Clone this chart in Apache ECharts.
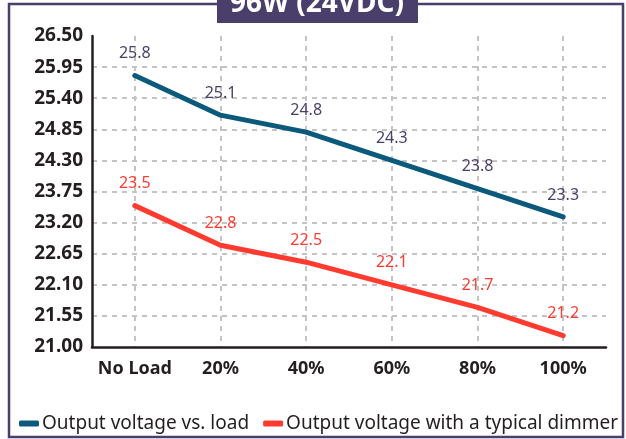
<!DOCTYPE html>
<html>
<head>
<meta charset="utf-8">
<script src="https://cdn.jsdelivr.net/npm/echarts@6/dist/echarts.min.js"></script>
<style>
  html, body { margin: 0; padding: 0; background: #ffffff; }
  #chart { width: 626px; height: 439px; }
</style>
</head>
<body>
<div id="chart"></div>
<script>
// 数据
var categories = ['No Load', '20%', '40%', '60%', '80%', '100%']
var loadVoltage = [25.8, 25.1, 24.8, 24.3, 23.8, 23.3]
var dimmerVoltage = [23.5, 22.8, 22.5, 22.1, 21.7, 21.2]
var seriesNames = ['Output voltage vs. load', 'Output voltage with a typical dimmer']
var titleText = '96W (24VDC)'

var purple = '#4a3f6b'
var blue = '#0b5a7c'
var red = '#ff3b30'
var font = 'Noto Sans'

// 辅助轴：竖向虚线放在类目中心
var helperTicks = []
for (var i = 0; i <= categories.length * 2; i++) helperTicks.push(String(i))

var chart = echarts.init(document.getElementById('chart'))

var option = {
  backgroundColor: '#ffffff',
  animation: false,
  graphic: [
    {
      type: 'rect',
      z: 1,
      shape: { x: 9, y: 4, width: 614, height: 433 },
      style: { fill: 'none', stroke: purple, lineWidth: 2.5 }
    },
    {
      type: 'rect',
      z: 10,
      shape: { x: 217, y: 0, width: 201, height: 23 },
      style: { fill: purple }
    },
    {
      type: 'text',
      z: 11,
      x: 317,
      y: 4,
      style: {
        text: titleText,
        fill: '#ffffff',
        font: 'bold 28px "Noto Sans"',
        align: 'center',
        verticalAlign: 'middle'
      }
    }
  ],
  grid: {
    left: 92,
    right: 20,
    top: 36,
    bottom: 92,
    containLabel: false
  },
  legend: {
    left: 14,
    top: 409,
    itemGap: 14,
    itemWidth: 20,
    itemHeight: 6,
    icon: 'roundRect',
    data: seriesNames,
    textStyle: {
      fontFamily: font,
      fontSize: 19,
      color: '#231f20',
      padding: [0, 0, 0, -2]
    }
  },
  xAxis: [
    {
      type: 'category',
      data: categories,
      boundaryGap: true,
      axisLine: { show: true, lineStyle: { color: '#231f20', width: 2.5 } },
      axisTick: { show: false },
      splitLine: { show: false },
      axisLabel: {
        interval: 0,
        fontFamily: font,
        fontWeight: 'bold',
        fontSize: 18,
        color: '#231f20',
        margin: 13
      }
    },
    {
      type: 'category',
      data: helperTicks,
      position: 'top',
      boundaryGap: false,
      axisLine: { show: false },
      axisTick: { show: false },
      axisLabel: { show: false },
      splitLine: {
        show: true,
        interval: function (idx) { return idx % 2 === 1 },
        lineStyle: { color: '#c4c4c4', width: 2, type: [5, 5] }
      }
    }
  ],
  yAxis: {
    type: 'value',
    min: 21,
    max: 26.5,
    interval: 0.55,
    axisLine: { show: true, lineStyle: { color: '#231f20', width: 2.5 } },
    axisTick: { show: false },
    splitLine: {
      show: true,
      showMaxLine: false,
      showMinLine: false,
      lineStyle: { color: '#c4c4c4', width: 2, type: [5, 5] }
    },
    axisLabel: {
      fontFamily: font,
      fontWeight: 'bold',
      fontSize: 19,
      color: '#231f20',
      margin: 9,
      formatter: function (v) { return v.toFixed(2) }
    }
  },
  series: [
    {
      name: seriesNames[0],
      type: 'line',
      data: loadVoltage,
      color: blue,
      symbol: 'circle',
      symbolSize: 4,
      lineStyle: { width: 5, color: blue, cap: 'round', join: 'round' },
      label: {
        show: true,
        position: 'top',
        distance: 12,
        fontFamily: font,
        fontSize: 16,
        color: purple
      },
      z: 3
    },
    {
      name: seriesNames[1],
      type: 'line',
      data: dimmerVoltage,
      color: red,
      symbol: 'circle',
      symbolSize: 4,
      lineStyle: { width: 5, color: red, cap: 'round', join: 'round' },
      label: {
        show: true,
        position: 'top',
        distance: 12,
        fontFamily: font,
        fontSize: 16,
        color: red
      },
      z: 3
    }
  ]
}

chart.setOption(option)
</script>
</body>
</html>
